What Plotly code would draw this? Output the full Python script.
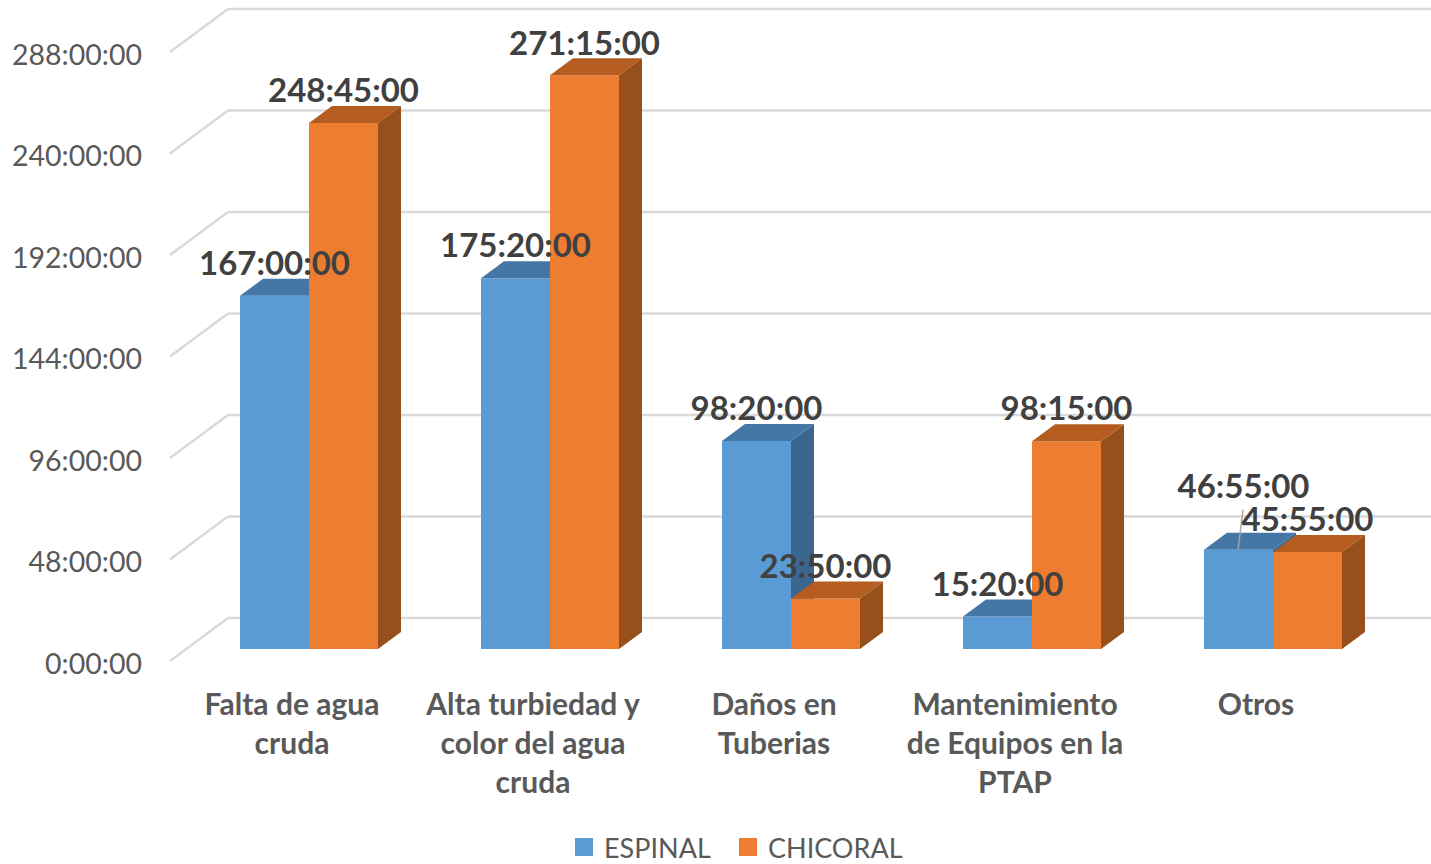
import plotly.graph_objects as go

categories = ["Falta de agua<br>cruda", "Alta turbiedad y<br>color del agua<br>cruda", "Daños en<br>Tuberias",
              "Mantenimiento<br>de Equipos en la<br>PTAP", "Otros"]
espinal_labels = ["167:00:00", "175:20:00", "98:20:00", "15:20:00", "46:55:00"]
chicoral_labels = ["248:45:00", "271:15:00", "23:50:00", "98:15:00", "45:55:00"]
tick_hours = [0, 48, 96, 144, 192, 240, 288]
tick_labels = ["0:00:00", "48:00:00", "96:00:00", "144:00:00", "192:00:00", "240:00:00", "288:00:00"]


def hours(text):
    h, m, s = text.split(":")
    return int(h) + int(m) / 60 + int(s) / 3600


espinal = [hours(t) for t in espinal_labels]
chicoral = [hours(t) for t in chicoral_labels]
xs = list(range(len(categories)))

W, H = 1431, 864
PX_X = 241.0          # pixels per category
PX_Y = 2.115          # pixels per hour
X0, Y0 = 309.0, 649.0  # pixel of category 0 / zero hours
xrange_ = [-X0 / PX_X, (W - X0) / PX_X]
yrange_ = [(Y0 - H) / PX_Y, Y0 / PX_Y]
ux = lambda p: p / PX_X
uy = lambda p: p / PX_Y

BAR = ux(69)
DX, DY = ux(23), uy(17)
LIFT = uy(29)

BLUE, BLUE_TOP, BLUE_SIDE = "#5B9BD5", "#4477A5", "#3A6690"
ORANGE, ORANGE_TOP, ORANGE_SIDE = "#ED7D31", "#B55D21", "#97501C"
GRID = "#D9D9D9"
TEXT = "#595959"
FONT = "Lato"

fig = go.Figure()


def add_series(name, values, offset, front, top, side, xa, ya):
    fig.add_trace(go.Bar(x=xs, y=values, width=BAR, offset=offset, name=name, marker=dict(color=front, line_width=0),
                         showlegend=False, xaxis=xa, yaxis=ya, hoverinfo="skip"))
    for i, v in zip(xs, values):
        l, r = i + offset, i + offset + BAR
        fig.add_trace(go.Scatter(x=[r, r + DX, r + DX, r, r], y=[0, DY, v + DY, v, 0], mode="lines", fill="toself",
                                 fillcolor=side, line=dict(width=0), showlegend=False, xaxis=xa, yaxis=ya,
                                 hoverinfo="skip"))
        fig.add_trace(go.Scatter(x=[l, r, r + DX, l + DX, l], y=[v, v, v + DY, v + DY, v], mode="lines", fill="toself",
                                 fillcolor=top, line=dict(width=0), showlegend=False, xaxis=xa, yaxis=ya,
                                 hoverinfo="skip"))


add_series("ESPINAL", espinal, -BAR, BLUE, BLUE_TOP, BLUE_SIDE, "x", "y")
add_series("CHICORAL", chicoral, 0, ORANGE, ORANGE_TOP, ORANGE_SIDE, "x2", "y2")

# leader line of the moved Otros / ESPINAL label
fig.add_trace(go.Scatter(x=[4 - ux(35), 4 - ux(30)], y=[espinal[4], espinal[4] + uy(40)], mode="lines",
                         line=dict(color="#A6A6A6", width=1.5), showlegend=False, xaxis="x2", yaxis="y2",
                         hoverinfo="skip"))

label_font = dict(family=FONT, size=33, color="#404040", weight="bold")
blue_x = [i - BAR / 2 for i in xs]
blue_x[4] += ux(5)
blue_y = [v + LIFT for v in espinal]
blue_y[4] = espinal[4] + uy(60)
fig.add_trace(go.Scatter(x=blue_x, y=blue_y, text=espinal_labels, mode="text", textposition="middle center",
                         textfont=label_font, showlegend=False, xaxis="x2", yaxis="y2", hoverinfo="skip"))
fig.add_trace(go.Scatter(x=[i + BAR / 2 for i in xs], y=[v + LIFT for v in chicoral], text=chicoral_labels,
                         mode="text", textposition="middle center", textfont=label_font, showlegend=False,
                         xaxis="x2", yaxis="y2", hoverinfo="skip"))

# legend entries
for name, color, leg in (("ESPINAL", BLUE, "legend"), ("CHICORAL", ORANGE, "legend2")):
    fig.add_trace(go.Scatter(x=[None], y=[None], mode="markers", name=name, legend=leg,
                             marker=dict(symbol="square", size=16, color=color, line=dict(color=color, width=2)),
                             xaxis="x", yaxis="y"))

# walls: horizontal back line + slanted side line for every tick
BACK_X, BACK_DY = xrange_[0] + ux(228), uy(31)
FRONT_X, FRONT_DY = xrange_[0] + ux(170), uy(12)
shapes = []
for t in tick_hours:
    line = dict(color=GRID, width=2.5)
    shapes.append(dict(type="line", layer="below", xref="x", yref="y", x0=BACK_X, x1=xrange_[1],
                       y0=t + BACK_DY, y1=t + BACK_DY, line=line))
    shapes.append(dict(type="line", layer="below", xref="x", yref="y", x0=FRONT_X, x1=BACK_X,
                       y0=t - FRONT_DY, y1=t + BACK_DY, line=line))

hidden = dict(range=xrange_, visible=False, fixedrange=True)
legend_style = dict(orientation="h", xanchor="left", y=1 - 823 / H, yanchor="top",
                    font=dict(family=FONT, size=27, color=TEXT), bgcolor="rgba(0,0,0,0)")
fig.update_layout(
    width=W, height=H, margin=dict(l=0, r=0, t=0, b=0, autoexpand=False), autosize=False,
    paper_bgcolor="white", plot_bgcolor="rgba(0,0,0,0)", barmode="overlay", shapes=shapes,
    font=dict(family=FONT, color=TEXT),
    xaxis=dict(range=xrange_, tickmode="array", tickvals=[i - ux(17) for i in xs], ticktext=categories,
               tickfont=dict(family=FONT, size=30, color=TEXT, weight="bold"), showgrid=False, zeroline=False,
               showline=False, ticks="", anchor="free", position=(H - 684) / H, fixedrange=True),
    yaxis=dict(range=yrange_, tickmode="array", tickvals=[t - uy(15) for t in tick_hours], ticktext=tick_labels,
               tickfont=dict(family=FONT, size=28.5, color=TEXT), showgrid=False, zeroline=False, showline=False,
               ticks="", anchor="free", position=142 / W, side="left", fixedrange=True),
    xaxis2=dict(hidden, overlaying="x"),
    yaxis2=dict(range=yrange_, visible=False, fixedrange=True, overlaying="y", anchor="x2"),
    showlegend=True,
    legend=dict(legend_style, x=564 / W),
    legend2=dict(legend_style, x=728 / W),
)
fig.write_html("out.html", config={"displayModeBar": False},
               post_script="document.body.style.margin='0';document.body.style.overflow='hidden';")
